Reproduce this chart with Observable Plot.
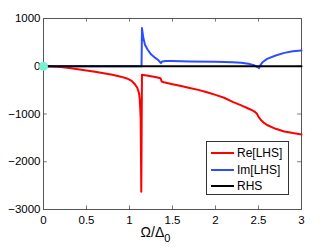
<!DOCTYPE html>
<html>
<head>
<meta charset="utf-8">
<script src="https://cdn.jsdelivr.net/npm/d3@7"></script>
<script src="https://cdn.jsdelivr.net/npm/@observablehq/plot@0.6"></script>
<style>
  html, body { margin: 0; padding: 0; background: #fff; }
  #wrap { position: relative; width: 332px; height: 250px; font-family: "Liberation Sans", Arial, Helvetica, sans-serif; }
  #legend { position: absolute; left: 206px; top: 141px; width: 83px; height: 54px; border: 1px solid #333; background: #fff; box-sizing: border-box; font-size: 12px; color: #000; }
  #legend .row { position: absolute; left: 4px; height: 14px; display: flex; align-items: center; }
  #legend .sw { width: 23px; height: 2px; margin-right: 3px; }
</style>
</head>
<body>
<div id="wrap"></div>
<script>
// ---- data ----
const xTicks = [0, 0.5, 1, 1.5, 2, 2.5, 3];
const yTicks = [-3000, -2000, -1000, 0, 1000];
const seriesNames = ["Re[LHS]", "Im[LHS]", "RHS"];
const seriesColors = ["#ff0000", "#2f4dff", "#000000"];

const reX = [0, 0.1, 0.2, 0.3, 0.4, 0.5, 0.6, 0.7, 0.8, 0.9, 0.97, 1.02, 1.06, 1.09, 1.11, 1.12, 1.13, 1.137,
             1.145, 1.2, 1.3, 1.36, 1.375, 1.4, 1.5, 1.6, 1.7, 1.8, 1.9, 2.0, 2.1, 2.2, 2.3, 2.4, 2.45, 2.48, 2.5, 2.53, 2.56, 2.6, 2.7, 2.8, 2.9, 3.0];
const reY = [0, -5, -18, -38, -62, -88, -115, -148, -180, -218, -255, -300, -370, -450, -560, -700, -1100, -2630,
             -180, -195, -225, -250, -320, -335, -375, -415, -455, -495, -545, -600, -660, -745, -820, -900, -945, -990, -1060, -1130, -1180, -1230, -1310, -1365, -1400, -1430];

const imX = [0, 1.14, 1.145, 1.16, 1.18, 1.21, 1.25, 1.3, 1.34, 1.36, 1.365, 1.38, 1.42, 1.5, 1.7, 2.0, 2.2, 2.3, 2.4, 2.45, 2.5, 2.505, 2.52, 2.55, 2.6, 2.7, 2.8, 2.9, 3.0];
const imY = [0, 0, 800, 600, 450, 350, 250, 175, 120, 75, 65, 100, 110, 110, 100, 92, 82, 72, 45, 20, -30, -40, 20, 90, 155, 225, 280, 315, 330];

const rhsX = [0, 3];
const rhsY = [0, 0];

const dotX = [0];
const dotY = [0];

// ---- build tables ----
const re = reX.map((x, i) => ({x, y: reY[i]}));
const im = imX.map((x, i) => ({x, y: imY[i]}));
const rhs = rhsX.map((x, i) => ({x, y: rhsY[i]}));
const dot = dotX.map((x, i) => ({x, y: dotY[i]}));

const xTickLen = 0.045;  // in x units (~4px)
const yTickLen = 75;     // in y units (~4px)
const yMin = -3000, yMax = 1000, xMin = 0, xMax = 3;

const fmtY = d => (d < 0 ? "\u2212" : "") + Math.abs(d);

const chart = Plot.plot({
  width: 332,
  height: 250,
  marginLeft: 43,
  marginRight: 31,
  marginTop: 18,
  marginBottom: 41,
  style: {fontFamily: "'Liberation Sans', Arial, Helvetica, sans-serif", fontSize: "11.5px", background: "#fff", color: "#000"},
  x: {domain: [xMin, xMax]},
  y: {domain: [yMin, yMax]},
  marks: [
    Plot.axisX(xTicks, {tickSize: 0, tickPadding: 6, label: null, fontSize: 11.5, tickFormat: d => String(d)}),
    Plot.axisY(yTicks, {tickSize: 0, tickPadding: 3, label: null, fontSize: 11.5, tickFormat: fmtY}),
    // inside ticks (box style)
    Plot.ruleX(xTicks, {x: d => d, y1: yMin, y2: yMin + yTickLen, stroke: "#555", strokeWidth: 0.8}),
    Plot.ruleX(xTicks, {x: d => d, y1: yMax, y2: yMax - yTickLen, stroke: "#555", strokeWidth: 0.8}),
    Plot.ruleY(yTicks, {y: d => d, x1: xMin, x2: xMin + xTickLen, stroke: "#555", strokeWidth: 0.8}),
    Plot.ruleY(yTicks, {y: d => d, x1: xMax, x2: xMax - xTickLen, stroke: "#555", strokeWidth: 0.8}),
    Plot.frame({stroke: "#555", strokeWidth: 1}),
    Plot.line(re, {x: "x", y: "y", stroke: seriesColors[0], strokeWidth: 2}),
    Plot.line(im, {x: "x", y: "y", stroke: seriesColors[1], strokeWidth: 2}),
    Plot.line(rhs, {x: "x", y: "y", stroke: seriesColors[2], strokeWidth: 2}),
    Plot.dot(dot, {x: "x", y: "y", r: 4.5, fill: "#78f0d2", stroke: "none"})
  ]
});

// x label with subscript
const svg = d3.select(chart);
const lbl = svg.append("text")
  .attr("x", 155.5)
  .attr("y", 237)
  .attr("font-family", "'Liberation Sans', Arial, Helvetica, sans-serif")
  .attr("font-size", 14)
  .attr("fill", "#000");
lbl.append("tspan").text("\u03A9/\u0394");
lbl.append("tspan").attr("dy", 5).attr("font-size", 11).text("0");

const wrap = document.getElementById("wrap");
wrap.appendChild(chart);

// legend
const legend = document.createElement("div");
legend.id = "legend";
seriesNames.forEach((name, i) => {
  const row = document.createElement("div");
  row.className = "row";
  row.style.top = (4 + i * 16.5) + "px";
  const sw = document.createElement("span");
  sw.className = "sw";
  sw.style.background = seriesColors[i];
  const t = document.createElement("span");
  t.textContent = name;
  row.appendChild(sw);
  row.appendChild(t);
  legend.appendChild(row);
});
wrap.appendChild(legend);
</script>
</body>
</html>
